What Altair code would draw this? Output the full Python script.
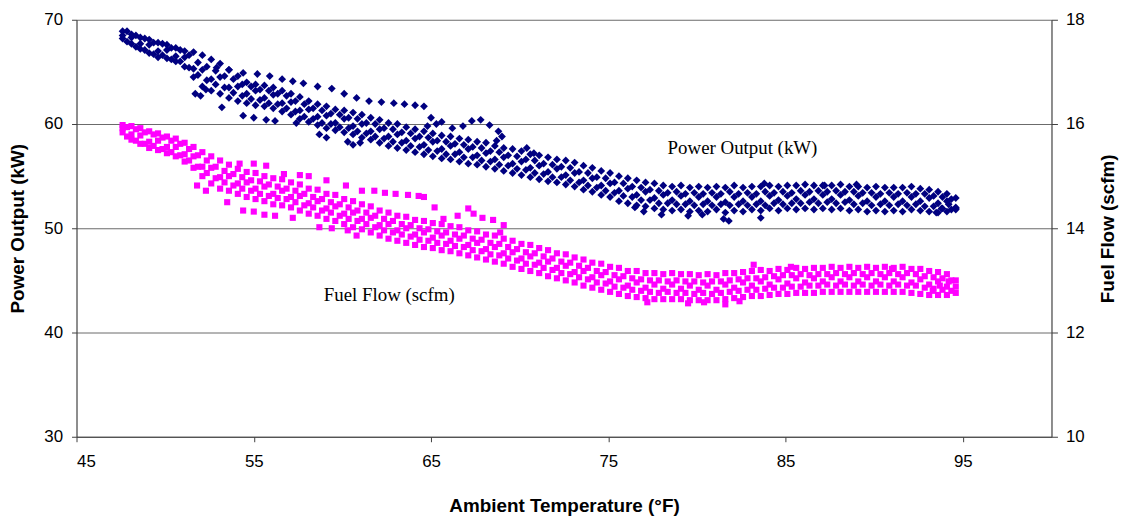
import altair as alt
import pandas as pd

# ---------------- temperature grids (deg F) ----------------
grid_a = [47.6, 48.1, 48.6, 49.1, 49.6, 50.1, 50.6, 51.1, 51.6, 52.1,
          52.6, 53.1, 53.6, 54.1, 54.6, 55.1, 55.6, 56.1, 56.6, 57.1,
          57.6, 58.1, 58.6, 59.1, 59.6, 60.1, 60.6, 61.1, 61.6, 62.1,
          62.6, 63.1, 63.6, 64.1, 64.6, 65.1, 65.6, 66.1, 66.6, 67.1,
          67.6, 68.1, 68.6, 69.1, 69.6, 70.1, 70.6, 71.1, 71.6, 72.1,
          72.6, 73.1, 73.6, 74.1, 74.6, 75.1, 75.6, 76.1, 76.6, 77.1,
          77.6, 78.1, 78.6, 79.1, 79.6, 80.1, 80.6, 81.1, 81.6, 82.1,
          82.6, 83.1, 83.6, 84.1, 84.6, 85.1, 85.6, 86.1, 86.6, 87.1,
          87.6, 88.1, 88.6, 89.1, 89.6, 90.1, 90.6, 91.1, 91.6, 92.1,
          92.6, 93.1, 93.6, 94.1, 94.6]
grid_b = [47.85, 48.35, 48.85, 49.35, 49.85, 50.35, 50.85, 51.35, 51.85, 52.35,
          52.85, 53.35, 53.85, 54.35, 54.85, 55.35, 55.85, 56.35, 56.85, 57.35,
          57.85, 58.35, 58.85, 59.35, 59.85, 60.35, 60.85, 61.35, 61.85, 62.35,
          62.85, 63.35, 63.85, 64.35, 64.85, 65.35, 65.85, 66.35, 66.85, 67.35,
          67.85, 68.35, 68.85, 69.35, 69.85, 70.35, 70.85, 71.35, 71.85, 72.35,
          72.85, 73.35, 73.85, 74.35, 74.85, 75.35, 75.85, 76.35, 76.85, 77.35,
          77.85, 78.35, 78.85, 79.35, 79.85, 80.35, 80.85, 81.35, 81.85, 82.35,
          82.85, 83.35, 83.85, 84.35, 84.85, 85.35, 85.85, 86.35, 86.85, 87.35,
          87.85, 88.35, 88.85, 89.35, 89.85, 90.35, 90.85, 91.35, 91.85, 92.35,
          92.85, 93.35, 93.85, 94.35]

# ---------------- Power output (kW) ----------------
power_1 = [68.9, 68.6, 68.3, 68.1, 67.8, 67.6, 67.3, 67.0, 66.9, 66.6,
           66.2, 65.8, 65.2, 64.6, 64.0, 63.8, 63.7, 63.5, 63.2, 62.9,
           62.6, 62.2, 61.9, 61.7, 61.4, 61.3, 61.1, 60.9, 60.6, 60.4,
           60.1, 60.0, 59.7, 59.5, 59.3, 59.1, 58.9, 58.8, 58.6, 58.5,
           58.3, 58.2, 57.9, 57.7, 57.6, 57.4, 57.1, 57.0, 56.8, 56.6,
           56.5, 56.3, 56.0, 55.8, 55.5, 55.3, 55.0, 54.8, 54.6, 54.4,
           54.3, 54.1, 54.0, 54.1, 53.9, 54.0, 53.9, 54.0, 53.9, 54.1,
           53.9, 54.0, 54.0, 54.1, 54.0, 54.1, 54.1, 54.2, 54.1, 54.1,
           54.1, 54.2, 54.0, 54.0, 53.9, 54.0, 53.9, 53.9, 53.9, 54.0,
           53.8, 53.7, 53.5, 53.3, 52.9]
power_3 = [68.5, 68.3, 67.7, 67.6, 67.0, 67.1, 66.5, 66.4, 65.3, 65.2,
           64.3, 64.5, 63.5, 63.6, 62.9, 63.2, 62.5, 62.8, 62.0, 62.1,
           61.3, 61.4, 60.7, 60.8, 60.1, 60.5, 59.8, 60.0, 59.3, 59.5,
           58.8, 59.0, 58.4, 58.6, 58.0, 58.3, 57.6, 57.9, 57.3, 57.6,
           57.0, 57.2, 56.6, 56.8, 56.2, 56.4, 55.8, 56.0, 55.4, 55.7,
           55.1, 55.3, 54.6, 54.8, 54.1, 54.3, 53.6, 53.8, 53.2, 53.5,
           52.9, 53.2, 52.7, 53.1, 52.6, 53.0, 52.6, 53.0, 52.5, 53.0,
           52.6, 53.0, 52.6, 53.1, 52.7, 53.1, 52.8, 53.2, 52.8, 53.2,
           52.8, 53.2, 52.7, 53.1, 52.6, 53.0, 52.6, 53.0, 52.6, 53.0,
           52.6, 52.9, 52.4, 52.6, 52.0]
power_5 = [68.2, 67.7, 67.2, 66.8, 66.4, 66.3, 66.0, 65.5, 64.5, 63.6,
           63.2, 62.9, 62.5, 62.2, 62.0, 61.8, 61.7, 61.5, 61.2, 60.9,
           60.5, 60.2, 59.9, 59.6, 59.4, 59.2, 59.0, 58.7, 58.5, 58.2,
           57.9, 57.7, 57.5, 57.3, 57.1, 56.9, 56.7, 56.6, 56.4, 56.2,
           56.1, 55.9, 55.7, 55.5, 55.3, 55.1, 54.9, 54.7, 54.5, 54.4,
           54.2, 54.0, 53.7, 53.5, 53.2, 53.0, 52.6, 52.4, 52.2, 52.1,
           51.9, 51.8, 51.7, 51.8, 51.6, 51.7, 51.6, 51.8, 51.5, 51.7,
           51.6, 51.8, 51.7, 51.9, 51.7, 51.9, 51.8, 51.9, 51.8, 51.9,
           51.8, 51.9, 51.7, 51.8, 51.6, 51.7, 51.6, 51.7, 51.6, 51.8,
           51.7, 51.6, 51.5, 51.6, 51.8]
power_2 = [68.9, 68.5, 68.2, 67.8, 67.7, 67.3, 67.1, 66.6, 65.9, 65.5,
           65.1, 64.6, 64.3, 63.8, 63.6, 63.3, 63.2, 62.9, 62.7, 62.2,
           61.9, 61.5, 61.3, 61.0, 60.9, 60.6, 60.5, 60.1, 60.0, 59.6,
           59.5, 59.2, 59.1, 58.8, 58.7, 58.4, 58.3, 58.1, 58.0, 57.8,
           57.7, 57.4, 57.3, 57.0, 56.9, 56.6, 56.5, 56.2, 56.1, 55.9,
           55.8, 55.4, 55.3, 54.9, 54.8, 54.4, 54.3, 54.0, 53.9, 53.7,
           53.6, 53.4, 53.5, 53.3, 53.4, 53.3, 53.4, 53.3, 53.5, 53.3,
           53.4, 53.3, 53.5, 53.4, 53.5, 53.4, 53.6, 53.5, 53.6, 53.5,
           53.6, 53.5, 53.5, 53.4, 53.4, 53.3, 53.4, 53.3, 53.4, 53.3,
           53.3, 53.1, 53.0, 52.8]
power_4 = [67.9, 67.4, 67.1, 66.7, 66.6, 66.2, 66.0, 65.4, 64.7, 64.2,
           63.8, 63.5, 63.0, 62.7, 62.4, 62.3, 62.0, 61.9, 61.5, 61.2,
           60.7, 60.5, 60.1, 60.0, 59.7, 59.6, 59.3, 59.1, 58.8, 58.6,
           58.3, 58.2, 57.9, 57.8, 57.5, 57.4, 57.1, 57.1, 56.8, 56.8,
           56.5, 56.4, 56.1, 56.0, 55.7, 55.6, 55.3, 55.2, 54.9, 54.9,
           54.6, 54.4, 54.1, 53.9, 53.6, 53.4, 53.1, 53.0, 52.7, 52.7,
           52.4, 52.4, 52.3, 52.3, 52.2, 52.3, 52.2, 52.3, 52.2, 52.3,
           52.2, 52.3, 52.2, 52.4, 52.3, 52.4, 52.4, 52.5, 52.4, 52.5,
           52.4, 52.5, 52.3, 52.4, 52.2, 52.3, 52.2, 52.3, 52.2, 52.3,
           52.1, 52.1, 51.9, 51.8]
power_extra_x = [52.9, 53.6, 54.4, 55.2, 55.9, 56.6, 57.2, 57.8, 58.6, 59.4, 60.1, 60.8, 61.5, 62.2, 62.9, 63.5, 64.1, 64.6,
                 64.8, 65.0, 65.3, 65.6, 66.2, 66.8, 67.3, 67.8, 68.3, 68.8, 69.0, 68.7, 70.4, 70.8,
                 51.7, 52.0, 52.3, 53.2, 54.4, 55.0, 55.7, 56.2, 57.4, 58.7, 59.1, 60.3, 60.6, 61.0,
                 76.5, 77.0, 78.0, 79.5, 80.3, 81.5, 81.8, 83.6, 83.8, 87.2, 89.0, 93.5, 93.8, 94.2, 94.6]
power_extra_y = [65.4, 65.2, 64.9, 64.8, 64.6, 64.3, 64.1, 63.9, 63.6, 63.4, 62.9, 62.5, 62.2, 62.1, 62.0, 61.9, 61.8, 61.7,
                 59.8, 60.6, 60.0, 60.2, 59.6, 59.8, 60.3, 60.4, 59.9, 59.3, 58.8, 58.4, 57.7, 57.2,
                 62.9, 62.7, 63.3, 61.6, 60.8, 60.6, 60.4, 60.3, 60.1, 59.0, 58.7, 58.3, 58.0, 58.2,
                 52.0, 51.6, 51.3, 51.2, 51.3, 50.9, 50.7, 51.0, 54.3, 54.1, 54.2, 51.5, 51.9, 52.3, 51.9]

# ---------------- Fuel flow (scfm) ----------------
fuel_1 = [15.98, 15.96, 15.92, 15.86, 15.82, 15.76, 15.72, 15.64, 15.56, 15.46,
          15.38, 15.30, 15.22, 15.14, 15.08, 15.06, 15.00, 14.96, 14.94, 14.88,
          14.84, 14.76, 14.74, 14.66, 14.64, 14.56, 14.52, 14.46, 14.42, 14.34,
          14.30, 14.24, 14.22, 14.16, 14.14, 14.10, 14.08, 14.04, 14.02, 13.96,
          13.94, 13.88, 13.86, 13.80, 13.76, 13.70, 13.68, 13.62, 13.58, 13.52,
          13.50, 13.44, 13.40, 13.34, 13.32, 13.26, 13.24, 13.18, 13.18, 13.14,
          13.14, 13.12, 13.14, 13.12, 13.12, 13.10, 13.12, 13.10, 13.14, 13.14,
          13.16, 13.18, 13.20, 13.18, 13.22, 13.20, 13.24, 13.22, 13.24, 13.24,
          13.26, 13.24, 13.26, 13.24, 13.26, 13.24, 13.26, 13.24, 13.26, 13.22,
          13.22, 13.18, 13.16, 13.12, 13.00]
fuel_3 = [15.92, 15.80, 15.78, 15.66, 15.68, 15.56, 15.56, 15.42, 15.38, 15.18,
          15.16, 14.98, 15.00, 14.86, 14.88, 14.76, 14.80, 14.66, 14.72, 14.60,
          14.62, 14.48, 14.52, 14.38, 14.42, 14.28, 14.30, 14.18, 14.20, 14.06,
          14.08, 13.96, 14.00, 13.88, 13.92, 13.82, 13.86, 13.76, 13.80, 13.68,
          13.72, 13.60, 13.64, 13.52, 13.54, 13.42, 13.46, 13.34, 13.36, 13.24,
          13.28, 13.16, 13.18, 13.06, 13.10, 12.98, 13.02, 12.90, 12.96, 12.86,
          12.92, 12.84, 12.92, 12.84, 12.90, 12.82, 12.90, 12.82, 12.92, 12.86,
          12.96, 12.90, 12.98, 12.92, 13.02, 12.94, 13.04, 12.96, 13.04, 12.98,
          13.06, 12.98, 13.06, 12.98, 13.06, 12.98, 13.06, 12.98, 13.06, 12.96,
          13.02, 12.92, 12.98, 12.88, 12.88]
fuel_5 = [15.84, 15.70, 15.62, 15.54, 15.50, 15.44, 15.38, 15.28, 15.16, 15.00,
          14.86, 14.76, 14.72, 14.66, 14.60, 14.56, 14.52, 14.46, 14.44, 14.40,
          14.34, 14.28, 14.24, 14.18, 14.14, 14.08, 14.02, 13.98, 13.92, 13.86,
          13.80, 13.76, 13.72, 13.68, 13.64, 13.62, 13.58, 13.56, 13.52, 13.48,
          13.44, 13.40, 13.36, 13.32, 13.26, 13.22, 13.18, 13.14, 13.08, 13.04,
          13.00, 12.96, 12.90, 12.86, 12.82, 12.78, 12.74, 12.70, 12.68, 12.66,
          12.64, 12.64, 12.64, 12.64, 12.62, 12.62, 12.62, 12.62, 12.64, 12.66,
          12.68, 12.70, 12.70, 12.72, 12.74, 12.74, 12.76, 12.76, 12.76, 12.78,
          12.78, 12.78, 12.78, 12.78, 12.78, 12.78, 12.78, 12.78, 12.78, 12.76,
          12.74, 12.72, 12.72, 12.72, 12.76]
fuel_2 = [15.94, 15.90, 15.84, 15.80, 15.74, 15.68, 15.62, 15.52, 15.40, 15.30,
          15.18, 15.10, 15.04, 14.98, 14.92, 14.90, 14.84, 14.80, 14.76, 14.72,
          14.66, 14.60, 14.56, 14.50, 14.46, 14.40, 14.34, 14.30, 14.24, 14.18,
          14.14, 14.08, 14.06, 14.00, 13.98, 13.94, 13.92, 13.88, 13.86, 13.80,
          13.78, 13.72, 13.70, 13.64, 13.60, 13.54, 13.52, 13.46, 13.42, 13.36,
          13.34, 13.28, 13.24, 13.18, 13.16, 13.10, 13.08, 13.04, 13.02, 13.00,
          13.00, 12.98, 13.00, 12.98, 12.98, 12.96, 12.98, 12.98, 13.00, 13.02,
          13.04, 13.04, 13.06, 13.08, 13.10, 13.10, 13.12, 13.10, 13.12, 13.12,
          13.14, 13.12, 13.14, 13.12, 13.14, 13.12, 13.14, 13.12, 13.14, 13.12,
          13.08, 13.06, 13.04, 13.00]
fuel_4 = [15.76, 15.68, 15.62, 15.58, 15.52, 15.46, 15.40, 15.30, 15.18, 15.06,
          14.96, 14.88, 14.82, 14.76, 14.72, 14.66, 14.62, 14.58, 14.56, 14.50,
          14.44, 14.40, 14.34, 14.30, 14.24, 14.18, 14.14, 14.08, 14.02, 13.96,
          13.92, 13.88, 13.84, 13.78, 13.76, 13.72, 13.70, 13.66, 13.64, 13.58,
          13.56, 13.50, 13.48, 13.42, 13.38, 13.32, 13.30, 13.24, 13.20, 13.14,
          13.12, 13.06, 13.02, 12.96, 12.94, 12.88, 12.86, 12.82, 12.80, 12.78,
          12.76, 12.78, 12.76, 12.76, 12.74, 12.76, 12.74, 12.76, 12.78, 12.80,
          12.82, 12.82, 12.84, 12.86, 12.86, 12.88, 12.88, 12.90, 12.90, 12.92,
          12.90, 12.92, 12.90, 12.92, 12.90, 12.92, 12.90, 12.92, 12.90, 12.90,
          12.86, 12.84, 12.82, 12.80]
fuel_extra_x = [54.2, 55.0, 55.7, 56.7, 57.6, 58.1, 59.1, 60.2, 61.1, 61.8, 62.4, 63.0, 63.7, 64.3, 64.6,
                65.2, 65.7, 66.5, 67.1, 67.4, 67.9, 68.5, 69.1, 68.9,
                51.8, 52.3, 53.5, 54.4, 55.0, 55.6, 56.2, 57.2, 58.7, 59.4, 60.3, 60.8,
                77.2, 79.5, 81.6, 82.4, 80.4, 83.2, 85.3, 91.0, 93.7, 94.2, 93.3]
fuel_extra_y = [15.24, 15.24, 15.20, 15.04, 15.02, 15.00, 14.92, 14.82, 14.72, 14.72, 14.68, 14.66, 14.64, 14.62, 14.60,
                14.40, 14.18, 14.24, 14.38, 14.28, 14.20, 14.16, 14.06, 13.92,
                14.82, 14.72, 14.50, 14.34, 14.32, 14.26, 14.24, 14.20, 14.02, 14.00, 13.96, 13.86,
                12.58, 12.56, 12.54, 12.60, 12.58, 13.30, 13.26, 13.22, 12.90, 12.98, 12.80]

x_ticks = [45, 55, 65, 75, 85, 95]
power_ticks = [30, 40, 50, 60, 70]
fuel_ticks = [10, 12, 14, 16, 18]

power_label = ["Power Output (kW)"]
power_label_x = [82.57]
power_label_y = [57.65]
fuel_label = ["Fuel Flow (scfm)"]
fuel_label_x = [62.64]
fuel_label_y = [12.72]


def frame(pairs):
    xs, ys = [], []
    for gx, gy in pairs:
        xs.extend(gx)
        ys.extend(gy)
    return pd.DataFrame({"x": xs, "y": ys})


power_df = frame([(grid_a, power_1), (grid_b, power_2), (grid_a, power_3),
                  (grid_b, power_4), (grid_a, power_5), (power_extra_x, power_extra_y)])
fuel_df = frame([(grid_a, fuel_1), (grid_b, fuel_2), (grid_a, fuel_3),
                 (grid_b, fuel_4), (grid_a, fuel_5), (fuel_extra_x, fuel_extra_y)])
power_lab_df = pd.DataFrame({"x": power_label_x, "y": power_label_y, "t": power_label})
fuel_lab_df = pd.DataFrame({"x": fuel_label_x, "y": fuel_label_y, "t": fuel_label})

FONT = "Liberation Sans"

x_enc = alt.X(
    "x:Q",
    scale=alt.Scale(domain=[45, 100], nice=False, zero=False),
    axis=alt.Axis(
        values=x_ticks, grid=False, title="Ambient Temperature (°F)",
        tickSize=5, labelPadding=12, titleY=69, titleBaseline="middle",
    ),
)
y_power = alt.Y(
    "y:Q",
    scale=alt.Scale(domain=[30, 70], nice=False, zero=False),
    axis=alt.Axis(
        values=power_ticks, grid=True, title="Power Output (kW)",
        tickSize=5, labelPadding=9, titleX=-59, titleBaseline="middle",
    ),
)
y_fuel = alt.Y(
    "y:Q",
    scale=alt.Scale(domain=[10, 18], nice=False, zero=False),
    axis=alt.Axis(
        orient="right", values=fuel_ticks, grid=False, title="Fuel Flow (scfm)",
        tickSize=6, labelPadding=8, titleAngle=270, titleX=56, titleBaseline="middle",
    ),
)

power_pts = alt.Chart(power_df).mark_point(
    shape="diamond", filled=True, size=62, color="#000080", opacity=1
).encode(x=x_enc, y=y_power)
power_txt = alt.Chart(power_lab_df).mark_text(
    font="Liberation Serif", fontSize=19, color="#000000", align="center", baseline="middle"
).encode(x=x_enc, y=y_power, text="t:N")

fuel_pts = alt.Chart(fuel_df).mark_point(
    shape="square", filled=True, size=38, color="#FF00FF", opacity=1
).encode(x=x_enc, y=y_fuel)
fuel_txt = alt.Chart(fuel_lab_df).mark_text(
    font="Liberation Serif", fontSize=19, color="#000000", align="center", baseline="middle"
).encode(x=x_enc, y=y_fuel, text="t:N")

chart = (
    alt.layer(alt.layer(power_pts, power_txt), alt.layer(fuel_pts, fuel_txt))
    .resolve_scale(y="independent")
    .properties(
        width=982, height=420,
        autosize=alt.AutoSizeParams(type="none"),
        padding={"left": 69, "top": 10, "right": 69, "bottom": 83},
        background="white",
    )
    .configure_view(stroke=None)
    .configure_axis(
        labelFont=FONT, labelFontSize=17, labelColor="#000000",
        titleFont=FONT, titleFontSize=19, titleFontWeight="bold", titleColor="#000000",
        domainColor="#404040", tickColor="#404040", gridColor="#6a6a6a",
        domainWidth=1.2, gridWidth=1,
    )
)

chart.save("out.html", embed_options={"renderer": "svg", "actions": False})
